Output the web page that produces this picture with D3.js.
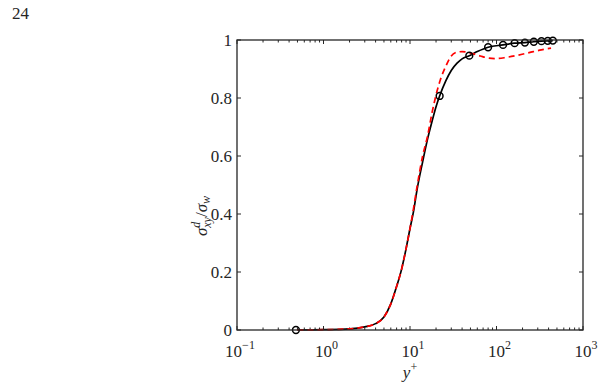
<!DOCTYPE html>
<html><head><meta charset="utf-8">
<script src="https://cdn.jsdelivr.net/npm/d3@7"></script>
<style>
body{margin:0;background:#fff;}
text{font-family:"Liberation Serif","Times New Roman",serif;fill:#262626;}
</style></head>
<body><svg id="c" width="601" height="387"></svg>
<script>
// Data
const blackX = [0.5,1,2,3,4,5,6,7,8,9,10,11,12,14,16,18,20,22,26,30,35,40,48.5,60,80,119,162,213,270,331,391,448];
const blackY = [0.0,0.001,0.004,0.011,0.022,0.045,0.09,0.15,0.21,0.28,0.35,0.41,0.48,0.58,0.66,0.72,0.77,0.807,0.86,0.895,0.92,0.935,0.946,0.96,0.975,0.983,0.989,0.991,0.994,0.996,0.997,0.998];
const redX = [0.5,1,2,3,4,5,6,7,8,9,10,11,12,14,16,18,20,22.4,26,30,35,40,50,65,80,100,130,180,250,330,427];
const redY = [0,0.001,0.004,0.011,0.022,0.045,0.09,0.15,0.21,0.28,0.35,0.42,0.49,0.6,0.67,0.75,0.81,0.862,0.91,0.945,0.958,0.96,0.955,0.945,0.938,0.936,0.94,0.948,0.958,0.966,0.972];
const markX = [0.48,22,48.5,80,119,162,213,270,331,391,448];
const markY = [0.0,0.807,0.946,0.975,0.983,0.989,0.991,0.994,0.996,0.997,0.998];
const xTickExp = [-1,0,1,2,3];
const yTicks = [0,0.2,0.4,0.6,0.8,1];
const yTickLabels = ["0","0.2","0.4","0.6","0.8","1"];

const L=237, R=583, T=40, B=330;
const FS=17, SS=12;
const svg = d3.select("#c");
const x = d3.scaleLog().domain([0.1,1000]).range([L,R]);
const y = d3.scaleLinear().domain([0,1]).range([B,T]);

svg.append("text").attr("x",12).attr("y",19).attr("font-size",FS).text("24");

// ticks
const minor=[];
for(let e=-1;e<3;e++) for(let k=2;k<=9;k++) minor.push(k*Math.pow(10,e));
const g = svg.append("g").attr("stroke","#262626").attr("stroke-width",1);
minor.forEach(v=>{
  g.append("line").attr("x1",x(v)).attr("x2",x(v)).attr("y1",B).attr("y2",B-2.5);
  g.append("line").attr("x1",x(v)).attr("x2",x(v)).attr("y1",T).attr("y2",T+2.5);
});
xTickExp.forEach(e=>{
  const v=Math.pow(10,e);
  g.append("line").attr("x1",x(v)).attr("x2",x(v)).attr("y1",B).attr("y2",B-4);
  g.append("line").attr("x1",x(v)).attr("x2",x(v)).attr("y1",T).attr("y2",T+4);
});
yTicks.forEach(v=>{
  g.append("line").attr("x1",L).attr("x2",L+4).attr("y1",y(v)).attr("y2",y(v));
  g.append("line").attr("x1",R).attr("x2",R-4).attr("y1",y(v)).attr("y2",y(v));
});

// lines
const line = d3.line().x(d=>x(d[0])).y(d=>y(d[1])).curve(d3.curveMonotoneX);
svg.append("path").datum(blackX.map((v,i)=>[v,blackY[i]])).attr("d",line)
  .attr("fill","none").attr("stroke","#000").attr("stroke-width",1.7);
svg.append("path").datum(redX.map((v,i)=>[v,redY[i]])).attr("d",line)
  .attr("fill","none").attr("stroke","#ff0000").attr("stroke-width",1.7).attr("stroke-dasharray","6,4");
svg.append("g").selectAll("circle").data(markX.map((v,i)=>[v,markY[i]])).join("circle")
  .attr("cx",d=>x(d[0])).attr("cy",d=>y(d[1])).attr("r",3.4)
  .attr("fill","none").attr("stroke","#000").attr("stroke-width",1.5);

// box
svg.append("rect").attr("x",L).attr("y",T).attr("width",R-L).attr("height",B-T)
  .attr("fill","none").attr("stroke","#262626").attr("stroke-width",1.3);

// tick labels
yTicks.forEach((v,i)=>{
  svg.append("text").attr("x",L-5).attr("y",y(v)+5.5).attr("text-anchor","end")
    .attr("font-size",FS).text(yTickLabels[i]);
});
xTickExp.forEach(e=>{
  const t=svg.append("text").attr("x",x(Math.pow(10,e))+3).attr("y",357).attr("text-anchor","middle").attr("font-size",FS);
  t.append("tspan").text("10");
  t.append("tspan").attr("dy",-8).attr("font-size",SS).text(String(e).replace("-","\u2212"));
});

// axis labels
const xl=svg.append("text").attr("x",410).attr("y",378).attr("text-anchor","middle").attr("font-size",FS);
xl.append("tspan").attr("font-style","italic").text("y");
xl.append("tspan").attr("dy",-7).attr("font-size",SS).text("+");

const yl=svg.append("text").attr("transform","translate(207,216) rotate(-90)").attr("text-anchor","middle").attr("font-size",FS);
yl.append("tspan").attr("font-style","italic").text("σ");
yl.append("tspan").attr("font-style","italic").attr("font-size",SS).attr("dy",-7).text("d");
yl.append("tspan").attr("font-style","italic").attr("font-size",SS).attr("dy",11).attr("dx",-6).text("xy");
yl.append("tspan").attr("dy",-4).text("/");
yl.append("tspan").attr("font-style","italic").text("σ");
yl.append("tspan").attr("font-style","italic").attr("font-size",SS).attr("dy",3).text("w");
</script></body></html>
